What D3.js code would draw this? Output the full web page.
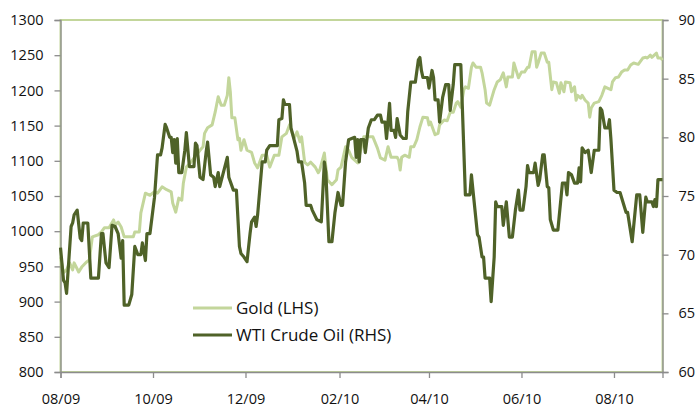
<!DOCTYPE html>
<html>
<head>
<meta charset="utf-8">
<script src="https://cdn.jsdelivr.net/npm/d3@7"></script>
<style>
    body { margin: 0; background: #fff; }
    text { font-family: "Open Sans", "Noto Sans", sans-serif; }
</style>
</head>
<body>
<script>
//gold prices, USD/oz (left axis)
var goldDates = [
    "2009-08-01","2009-08-03","2009-08-05","2009-08-07","2009-08-09","2009-08-10","2009-08-13","2009-08-15","2009-08-18","2009-08-20","2009-08-22","2009-08-26","2009-08-28","2009-08-30",
    "2009-09-02","2009-09-05","2009-09-06","2009-09-08","2009-09-10","2009-09-12","2009-09-18","2009-09-19","2009-09-22","2009-09-23","2009-09-26","2009-09-29",
    "2009-10-02","2009-10-04","2009-10-07","2009-10-10","2009-10-13","2009-10-14","2009-10-16","2009-10-18","2009-10-20","2009-10-21","2009-10-23","2009-10-26",
    "2009-11-01","2009-11-03","2009-11-04","2009-11-06","2009-11-09","2009-11-11","2009-11-13","2009-11-15","2009-11-17","2009-11-19","2009-11-20","2009-11-21","2009-11-22","2009-11-24","2009-11-26","2009-11-27","2009-11-28","2009-11-30",
    "2009-12-02","2009-12-05","2009-12-07","2009-12-09","2009-12-12","2009-12-15","2009-12-17","2009-12-20","2009-12-23","2009-12-25","2009-12-28","2009-12-30",
    "2010-01-02","2010-01-04","2010-01-06","2010-01-07","2010-01-09","2010-01-11","2010-01-13","2010-01-16","2010-01-18","2010-01-19","2010-01-22","2010-01-23","2010-01-24","2010-01-27","2010-01-30","2010-01-31",
    "2010-02-02","2010-02-05","2010-02-07","2010-02-09","2010-02-13","2010-02-17","2010-02-23","2010-02-26","2010-02-28",
    "2010-03-03","2010-03-05","2010-03-07","2010-03-11","2010-03-12","2010-03-13","2010-03-14","2010-03-16","2010-03-19","2010-03-20","2010-03-22","2010-03-24","2010-03-26","2010-03-28","2010-03-31",
    "2010-04-01","2010-04-02","2010-04-05","2010-04-07","2010-04-08","2010-04-11","2010-04-13","2010-04-15","2010-04-17","2010-04-19","2010-04-20","2010-04-22","2010-04-24","2010-04-25","2010-04-27","2010-04-29","2010-04-30",
    "2010-05-02","2010-05-05","2010-05-06","2010-05-08","2010-05-09","2010-05-11","2010-05-14","2010-05-16","2010-05-18","2010-05-20","2010-05-22","2010-05-23","2010-05-26","2010-05-27","2010-05-28","2010-05-30",
    "2010-06-01","2010-06-03","2010-06-05","2010-06-06","2010-06-08","2010-06-10","2010-06-11","2010-06-12","2010-06-14","2010-06-16","2010-06-18","2010-06-19","2010-06-21","2010-06-22","2010-06-24","2010-06-26","2010-06-27","2010-06-29","2010-06-30",
    "2010-07-03","2010-07-04","2010-07-06","2010-07-07","2010-07-08","2010-07-10","2010-07-11","2010-07-13","2010-07-15","2010-07-16","2010-07-17","2010-07-19","2010-07-22","2010-07-24","2010-07-26","2010-07-28","2010-07-30","2010-07-31",
    "2010-08-02","2010-08-04","2010-08-06","2010-08-08","2010-08-10","2010-08-12","2010-08-14","2010-08-17","2010-08-20","2010-08-22","2010-08-23","2010-08-25","2010-08-26","2010-08-29","2010-08-30",
    "2010-09-01","2010-09-02"
];
var goldValues = [
    963,941,945,955,945,955,942,949,956,959,992,995,999,1005,
    1005,1016,1009,1013,1006,992,992,999,999,1026,1054,1051,
    1056,1054,1063,1059,1056,1040,1027,1047,1044,1068,1091,1098,
    1115,1120,1139,1147,1151,1169,1191,1179,1179,1193,1218,1198,1161,1161,1130,1132,1115,1130,
    1115,1112,1097,1090,1108,1108,1091,1108,1108,1134,1139,1151,
    1132,1141,1127,1134,1098,1094,1098,1091,1083,1087,1111,1091,1073,1066,1073,1087,
    1091,1120,1115,1105,1097,1134,1134,1118,1104,
    1101,1120,1105,1105,1101,1087,1105,1108,1105,1120,1120,1130,1148,1162,1161,
    1151,1155,1137,1139,1151,1158,1157,1169,1169,1182,1184,1176,1201,1205,1203,1233,1239,
    1233,1233,1225,1201,1182,1179,1201,1212,1215,1225,1205,1219,1219,1239,1232,1218,
    1226,1226,1233,1233,1255,1255,1233,1239,1253,1253,1240,1240,1201,1212,1211,1196,1211,1198,1212,
    1211,1198,1205,1186,1193,1189,1193,1186,1182,1162,1175,1182,1184,1193,1205,1203,1201,1212,
    1218,1219,1226,1229,1229,1236,1239,1237,1246,1247,1246,1250,1247,1253,1246,
    1246,1243
];

//wti crude, USD/bbl (right axis)
var oilDates = [
    "2009-08-01","2009-08-03","2009-08-04","2009-08-05","2009-08-08","2009-08-09","2009-08-10","2009-08-12","2009-08-14","2009-08-15","2009-08-16","2009-08-19","2009-08-21","2009-08-26","2009-08-28","2009-08-29","2009-08-31",
    "2009-09-02","2009-09-04","2009-09-06","2009-09-08","2009-09-10","2009-09-11","2009-09-12","2009-09-15","2009-09-17","2009-09-19","2009-09-21","2009-09-23","2009-09-24","2009-09-26","2009-09-27","2009-09-29",
    "2009-10-02","2009-10-04","2009-10-06","2009-10-07","2009-10-09","2009-10-10","2009-10-12","2009-10-13","2009-10-14","2009-10-15","2009-10-16","2009-10-17","2009-10-18","2009-10-20","2009-10-22","2009-10-23","2009-10-25","2009-10-28","2009-10-29","2009-10-30",
    "2009-11-01","2009-11-03","2009-11-05","2009-11-06","2009-11-08","2009-11-10","2009-11-11","2009-11-13","2009-11-14","2009-11-19","2009-11-20","2009-11-23","2009-11-25","2009-11-27","2009-11-28","2009-11-30",
    "2009-12-02","2009-12-04","2009-12-05","2009-12-07","2009-12-08","2009-12-09","2009-12-12","2009-12-14","2009-12-15","2009-12-17","2009-12-22","2009-12-23","2009-12-25","2009-12-26","2009-12-27","2009-12-30","2009-12-31",
    "2010-01-04","2010-01-05","2010-01-07","2010-01-09","2010-01-10","2010-01-13","2010-01-14","2010-01-17","2010-01-20","2010-01-22","2010-01-23","2010-01-25","2010-01-27","2010-01-29","2010-01-31",
    "2010-02-02","2010-02-03","2010-02-05","2010-02-07","2010-02-09","2010-02-11","2010-02-12","2010-02-13","2010-02-14","2010-02-15","2010-02-17","2010-02-18","2010-02-20","2010-02-22","2010-02-24","2010-02-26","2010-02-28",
    "2010-03-01","2010-03-03","2010-03-04","2010-03-06","2010-03-07","2010-03-09","2010-03-10","2010-03-11","2010-03-13","2010-03-15","2010-03-17","2010-03-18","2010-03-20","2010-03-23","2010-03-25","2010-03-26","2010-03-27","2010-03-28","2010-03-31",
    "2010-04-01","2010-04-03","2010-04-04","2010-04-05","2010-04-07","2010-04-08","2010-04-10","2010-04-12","2010-04-14","2010-04-15","2010-04-17","2010-04-18","2010-04-22","2010-04-23","2010-04-25","2010-04-28","2010-04-29","2010-04-30",
    "2010-05-03","2010-05-04","2010-05-06","2010-05-07","2010-05-08","2010-05-11","2010-05-12","2010-05-14","2010-05-15","2010-05-16","2010-05-19","2010-05-20","2010-05-22","2010-05-24","2010-05-26","2010-05-28","2010-05-30","2010-05-31",
    "2010-06-02","2010-06-04","2010-06-05","2010-06-06","2010-06-09","2010-06-10","2010-06-12","2010-06-13","2010-06-15","2010-06-16","2010-06-18","2010-06-19","2010-06-20","2010-06-22","2010-06-25","2010-06-28","2010-06-30",
    "2010-07-01","2010-07-02","2010-07-04","2010-07-06","2010-07-08","2010-07-09","2010-07-10","2010-07-11","2010-07-13","2010-07-15","2010-07-17","2010-07-19","2010-07-22","2010-07-23","2010-07-24","2010-07-26","2010-07-28","2010-07-29","2010-07-30",
    "2010-08-01","2010-08-03","2010-08-05","2010-08-09","2010-08-10","2010-08-13","2010-08-16","2010-08-18","2010-08-20","2010-08-22","2010-08-23","2010-08-26","2010-08-27","2010-08-28","2010-08-29","2010-08-30",
    "2010-09-02"
];
var oilValues = [
    70.6,67.8,67.6,66.7,72.4,72.7,73.4,73.8,71.4,71.2,72.7,72.7,68.0,68.0,71.8,71.8,69.3,
    68.9,72.5,72.4,71.8,69.7,71.2,65.7,65.7,66.6,70.7,70.0,70.0,71.0,69.5,71.8,71.8,
    74.9,78.5,78.5,79.1,81.1,80.8,80.0,80.0,78.7,79.8,77.8,79.9,77.0,77.0,78.9,80.4,77.5,77.5,79.5,79.3,
    76.6,76.4,78.7,79.6,76.8,76.6,75.8,77.0,75.8,78.3,76.6,75.5,75.5,70.7,70.1,69.8,
    69.4,71.8,72.8,73.2,72.4,73.4,77.9,77.9,78.9,79.3,79.3,81.5,81.6,83.2,82.8,82.8,80.8,
    78.8,77.9,77.9,76.1,74.2,74.2,73.8,73.0,72.8,77.9,77.0,71.1,71.1,73.6,75.3,
    74.2,74.2,77.9,79.8,79.9,80.0,78.3,79.8,77.9,79.8,79.8,78.7,80.8,81.5,81.5,81.9,81.9,
    81.3,81.3,79.9,82.9,80.6,80.6,80.0,81.6,80.2,79.9,79.9,82.2,84.7,84.7,86.6,86.8,85.7,85.1,85.1,
    84.2,85.7,85.1,83.2,83.2,81.3,83.4,84.5,84.5,82.3,84.5,86.2,86.2,82.6,75.1,75.1,76.8,75.5,
    71.7,71.5,69.8,69.8,68.0,68.0,66.0,69.8,74.5,74.1,74.1,72.5,74.5,71.5,71.5,73.8,75.5,73.8,
    73.8,75.8,77.6,77.0,77.0,77.8,75.9,76.4,78.5,78.5,75.8,75.7,73.0,72.1,72.1,76.1,76.1,
    75.1,77.0,76.8,76.1,76.1,77.4,76.2,79.1,78.7,78.9,77.0,78.9,78.9,82.5,82.3,80.8,80.8,81.5,79.8,
    75.5,75.3,75.3,73.6,73.6,71.1,75.1,75.1,71.9,74.9,74.5,74.5,74.1,74.7,74.1,76.4,
    76.4
];

//axis ticks
var xTickDates = ["2009-08-01","2009-10-01","2009-12-01","2010-02-01","2010-04-01","2010-06-01","2010-08-01"];
var xTickLabels = ["08/09","10/09","12/09","02/10","04/10","06/10","08/10"];
var leftTicks = [800,850,900,950,1000,1050,1100,1150,1200,1250,1300];
var rightTicks = [60,65,70,75,80,85,90];

var seriesNames = ["Gold (LHS)","WTI Crude Oil (RHS)"];
var seriesColors = ["#c3d69b","#4f6228"];

window.onload = drawChart();

function drawChart(){
    var width = 696,
        height = 408;

    //plot area edges
    var left = 60.5, right = 662.5, top = 20, bottom = 372;

    var parse = d3.timeParse("%Y-%m-%d");

    var svg = d3.select("body")
        .append("svg")
        .attr("width", width)
        .attr("height", height);

    var x = d3.scaleTime()
        .domain([parse("2009-08-01"), parse("2010-09-02")])
        .range([left, right]);

    var yLeft = d3.scaleLinear()
        .domain([800, 1300])
        .range([bottom, top]);

    var yRight = d3.scaleLinear()
        .domain([60, 90])
        .range([bottom, top]);

    //plot area border (light green like excel did it)
    svg.append("rect")
        .attr("x", left)
        .attr("y", top)
        .attr("width", right - left)
        .attr("height", bottom - top)
        .attr("fill", "none")
        .attr("stroke", seriesColors[0])
        .attr("stroke-width", 2);

    //axes
    var xAxis = d3.axisBottom(x)
        .tickValues(xTickDates.map(parse))
        .tickFormat(function(d, i){ return xTickLabels[i]; })
        .tickSize(6)
        .tickPadding(16);

    var leftAxis = d3.axisLeft(yLeft)
        .tickValues(leftTicks)
        .tickFormat(d3.format("d"))
        .tickSize(6)
        .tickPadding(11);

    var rightAxis = d3.axisRight(yRight)
        .tickValues(rightTicks)
        .tickFormat(d3.format("d"))
        .tickSize(6)
        .tickPadding(10);

    function styleAxis(g){
        g.select(".domain").attr("stroke", "#8c8c8c").attr("stroke-width", 1.3);
        g.selectAll(".tick line").attr("stroke", "#8c8c8c").attr("stroke-width", 1.3);
        g.selectAll(".tick text")
            .attr("fill", "#111")
            .style("font-size", "14.5px")
            .style("font-family", "'Open Sans', 'Noto Sans', sans-serif");
    }

    svg.append("g")
        .attr("transform", "translate(0," + bottom + ")")
        .call(xAxis)
        .call(styleAxis);

    svg.append("g")
        .attr("transform", "translate(" + left + ",0)")
        .call(leftAxis)
        .call(styleAxis);

    svg.append("g")
        .attr("transform", "translate(" + right + ",0)")
        .call(rightAxis)
        .call(styleAxis);

    //series data
    var gold = goldDates.map(function(d, i){ return {date: parse(d), value: goldValues[i]}; });
    var oil = oilDates.map(function(d, i){ return {date: parse(d), value: oilValues[i]}; });

    var goldLine = d3.line()
        .x(function(d){ return x(d.date); })
        .y(function(d){ return yLeft(d.value); });

    var oilLine = d3.line()
        .x(function(d){ return x(d.date); })
        .y(function(d){ return yRight(d.value); });

    svg.append("path")
        .datum(gold)
        .attr("fill", "none")
        .attr("stroke", seriesColors[0])
        .attr("stroke-width", 3)
        .attr("stroke-linejoin", "round")
        .attr("d", goldLine);

    svg.append("path")
        .datum(oil)
        .attr("fill", "none")
        .attr("stroke", seriesColors[1])
        .attr("stroke-width", 3.2)
        .attr("stroke-linejoin", "round")
        .attr("d", oilLine);

    //legend
    var legend = svg.append("g")
        .attr("transform", "translate(193,308)");

    var items = legend.selectAll("g")
        .data(seriesNames)
        .enter()
        .append("g")
        .attr("transform", function(d, i){ return "translate(0," + (i * 27) + ")"; });

    items.append("line")
        .attr("x1", 0)
        .attr("x2", 39)
        .attr("stroke", function(d, i){ return seriesColors[i]; })
        .attr("stroke-width", 3);

    items.append("text")
        .attr("x", 43)
        .attr("dy", "0.35em")
        .attr("fill", "#111")
        .style("font-size", "17px")
        .text(function(d){ return d; });
}
</script>
</body>
</html>
